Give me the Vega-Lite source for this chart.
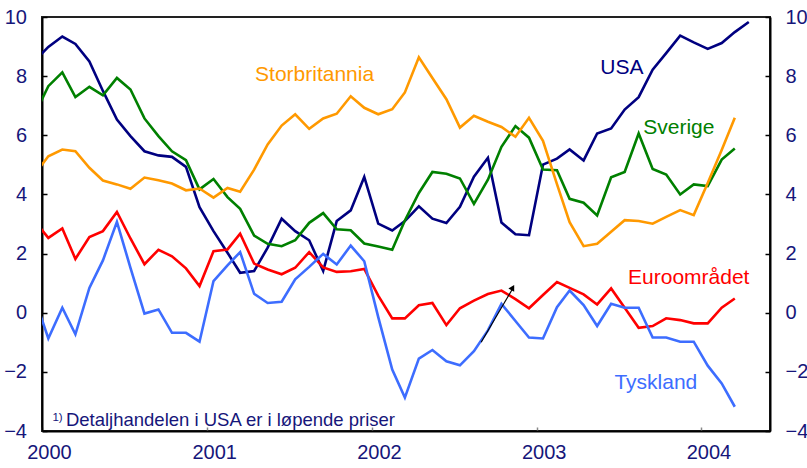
{
  "$schema": "https://vega.github.io/schema/vega-lite/v6.json",
  "width": 728,
  "height": 414,
  "autosize": {"type": "none"},
  "padding": {"left": 42, "top": 17, "right": 37, "bottom": 37},
  "background": "white",
  "config": {
    "view": {"stroke": "#222222", "strokeWidth": 2},
    "font": "Liberation Sans"
  },
  "resolve": {"scale": {"y": "independent"}},
  "layer": [
    {
      "layer": [
        {
          "data": {"values": [
            {"d":"1999-12-15","s":"USA","v":8.51},{"d":"2000-01-15","s":"USA","v":8.99},{"d":"2000-02-15","s":"USA","v":9.34},{"d":"2000-03-15","s":"USA","v":9.09},{"d":"2000-04-15","s":"USA","v":8.50},{"d":"2000-05-15","s":"USA","v":7.50},{"d":"2000-06-15","s":"USA","v":6.53},{"d":"2000-07-15","s":"USA","v":5.97},{"d":"2000-08-15","s":"USA","v":5.46},{"d":"2000-09-15","s":"USA","v":5.32},{"d":"2000-10-15","s":"USA","v":5.27},{"d":"2000-11-15","s":"USA","v":4.93},{"d":"2000-12-15","s":"USA","v":3.57},
            {"d":"2001-01-15","s":"USA","v":2.76},{"d":"2001-02-15","s":"USA","v":2.03},{"d":"2001-03-15","s":"USA","v":1.35},{"d":"2001-04-15","s":"USA","v":1.41},{"d":"2001-05-15","s":"USA","v":2.20},{"d":"2001-06-15","s":"USA","v":3.18},{"d":"2001-07-15","s":"USA","v":2.76},{"d":"2001-08-15","s":"USA","v":2.45},{"d":"2001-09-15","s":"USA","v":1.41},{"d":"2001-10-15","s":"USA","v":3.10},{"d":"2001-11-15","s":"USA","v":3.46},{"d":"2001-12-15","s":"USA","v":4.59},
            {"d":"2002-01-15","s":"USA","v":3.01},{"d":"2002-02-15","s":"USA","v":2.78},{"d":"2002-03-15","s":"USA","v":3.10},{"d":"2002-04-15","s":"USA","v":3.60},{"d":"2002-05-15","s":"USA","v":3.18},{"d":"2002-06-15","s":"USA","v":3.03},{"d":"2002-07-15","s":"USA","v":3.58},{"d":"2002-08-15","s":"USA","v":4.60},{"d":"2002-09-15","s":"USA","v":5.24},{"d":"2002-10-15","s":"USA","v":3.05},{"d":"2002-11-15","s":"USA","v":2.65},{"d":"2002-12-15","s":"USA","v":2.62},
            {"d":"2003-01-15","s":"USA","v":5.01},{"d":"2003-02-15","s":"USA","v":5.21},{"d":"2003-03-15","s":"USA","v":5.52},{"d":"2003-04-15","s":"USA","v":5.15},{"d":"2003-05-15","s":"USA","v":6.06},{"d":"2003-06-15","s":"USA","v":6.23},{"d":"2003-07-15","s":"USA","v":6.87},{"d":"2003-08-15","s":"USA","v":7.29},{"d":"2003-09-15","s":"USA","v":8.22},{"d":"2003-10-15","s":"USA","v":8.78},{"d":"2003-11-15","s":"USA","v":9.37},{"d":"2003-12-15","s":"USA","v":9.14},
            {"d":"2004-01-15","s":"USA","v":8.92},{"d":"2004-02-15","s":"USA","v":9.12},{"d":"2004-03-15","s":"USA","v":9.49},{"d":"2004-04-15","s":"USA","v":9.83},

            {"d":"1999-12-15","s":"Sverige","v":6.68},{"d":"2000-01-15","s":"Sverige","v":7.66},{"d":"2000-02-15","s":"Sverige","v":8.13},{"d":"2000-03-15","s":"Sverige","v":7.29},{"d":"2000-04-15","s":"Sverige","v":7.64},{"d":"2000-05-15","s":"Sverige","v":7.35},{"d":"2000-06-15","s":"Sverige","v":7.94},{"d":"2000-07-15","s":"Sverige","v":7.55},{"d":"2000-08-15","s":"Sverige","v":6.57},{"d":"2000-09-15","s":"Sverige","v":5.97},{"d":"2000-10-15","s":"Sverige","v":5.46},{"d":"2000-11-15","s":"Sverige","v":5.16},{"d":"2000-12-15","s":"Sverige","v":4.17},
            {"d":"2001-01-15","s":"Sverige","v":4.52},{"d":"2001-02-15","s":"Sverige","v":3.91},{"d":"2001-03-15","s":"Sverige","v":3.51},{"d":"2001-04-15","s":"Sverige","v":2.61},{"d":"2001-05-15","s":"Sverige","v":2.33},{"d":"2001-06-15","s":"Sverige","v":2.25},{"d":"2001-07-15","s":"Sverige","v":2.45},{"d":"2001-08-15","s":"Sverige","v":3.04},{"d":"2001-09-15","s":"Sverige","v":3.37},{"d":"2001-10-15","s":"Sverige","v":2.82},{"d":"2001-11-15","s":"Sverige","v":2.79},{"d":"2001-12-15","s":"Sverige","v":2.34},
            {"d":"2002-01-15","s":"Sverige","v":2.24},{"d":"2002-02-15","s":"Sverige","v":2.13},{"d":"2002-03-15","s":"Sverige","v":3.12},{"d":"2002-04-15","s":"Sverige","v":4.05},{"d":"2002-05-15","s":"Sverige","v":4.76},{"d":"2002-06-15","s":"Sverige","v":4.70},{"d":"2002-07-15","s":"Sverige","v":4.54},{"d":"2002-08-15","s":"Sverige","v":3.68},{"d":"2002-09-15","s":"Sverige","v":4.50},{"d":"2002-10-15","s":"Sverige","v":5.61},{"d":"2002-11-15","s":"Sverige","v":6.31},{"d":"2002-12-15","s":"Sverige","v":5.92},
            {"d":"2003-01-15","s":"Sverige","v":4.84},{"d":"2003-02-15","s":"Sverige","v":4.82},{"d":"2003-03-15","s":"Sverige","v":3.85},{"d":"2003-04-15","s":"Sverige","v":3.72},{"d":"2003-05-15","s":"Sverige","v":3.29},{"d":"2003-06-15","s":"Sverige","v":4.58},{"d":"2003-07-15","s":"Sverige","v":4.76},{"d":"2003-08-15","s":"Sverige","v":6.06},{"d":"2003-09-15","s":"Sverige","v":4.86},{"d":"2003-10-15","s":"Sverige","v":4.67},{"d":"2003-11-15","s":"Sverige","v":4.00},{"d":"2003-12-15","s":"Sverige","v":4.34},
            {"d":"2004-01-15","s":"Sverige","v":4.28},{"d":"2004-02-15","s":"Sverige","v":5.18},{"d":"2004-03-15","s":"Sverige","v":5.55},

            {"d":"1999-12-15","s":"Storbritannia","v":4.67},{"d":"2000-01-15","s":"Storbritannia","v":5.29},{"d":"2000-02-15","s":"Storbritannia","v":5.52},{"d":"2000-03-15","s":"Storbritannia","v":5.46},{"d":"2000-04-15","s":"Storbritannia","v":4.90},{"d":"2000-05-15","s":"Storbritannia","v":4.47},{"d":"2000-06-15","s":"Storbritannia","v":4.34},{"d":"2000-07-15","s":"Storbritannia","v":4.19},{"d":"2000-08-15","s":"Storbritannia","v":4.57},{"d":"2000-09-15","s":"Storbritannia","v":4.48},{"d":"2000-10-15","s":"Storbritannia","v":4.37},{"d":"2000-11-15","s":"Storbritannia","v":4.14},{"d":"2000-12-15","s":"Storbritannia","v":4.20},
            {"d":"2001-01-15","s":"Storbritannia","v":3.89},{"d":"2001-02-15","s":"Storbritannia","v":4.22},{"d":"2001-03-15","s":"Storbritannia","v":4.09},{"d":"2001-04-15","s":"Storbritannia","v":4.84},{"d":"2001-05-15","s":"Storbritannia","v":5.69},{"d":"2001-06-15","s":"Storbritannia","v":6.33},{"d":"2001-07-15","s":"Storbritannia","v":6.71},{"d":"2001-08-15","s":"Storbritannia","v":6.22},{"d":"2001-09-15","s":"Storbritannia","v":6.57},{"d":"2001-10-15","s":"Storbritannia","v":6.73},{"d":"2001-11-15","s":"Storbritannia","v":7.32},{"d":"2001-12-15","s":"Storbritannia","v":6.93},
            {"d":"2002-01-15","s":"Storbritannia","v":6.71},{"d":"2002-02-15","s":"Storbritannia","v":6.88},{"d":"2002-03-15","s":"Storbritannia","v":7.45},{"d":"2002-04-15","s":"Storbritannia","v":8.64},{"d":"2002-05-15","s":"Storbritannia","v":7.94},{"d":"2002-06-15","s":"Storbritannia","v":7.22},{"d":"2002-07-15","s":"Storbritannia","v":6.26},{"d":"2002-08-15","s":"Storbritannia","v":6.66},{"d":"2002-09-15","s":"Storbritannia","v":6.46},{"d":"2002-10-15","s":"Storbritannia","v":6.28},{"d":"2002-11-15","s":"Storbritannia","v":5.95},{"d":"2002-12-15","s":"Storbritannia","v":6.59},
            {"d":"2003-01-15","s":"Storbritannia","v":5.81},{"d":"2003-02-15","s":"Storbritannia","v":4.35},{"d":"2003-03-15","s":"Storbritannia","v":3.06},{"d":"2003-04-15","s":"Storbritannia","v":2.25},{"d":"2003-05-15","s":"Storbritannia","v":2.33},{"d":"2003-06-15","s":"Storbritannia","v":2.74},{"d":"2003-07-15","s":"Storbritannia","v":3.13},{"d":"2003-08-15","s":"Storbritannia","v":3.10},{"d":"2003-09-15","s":"Storbritannia","v":3.01},{"d":"2003-10-15","s":"Storbritannia","v":3.24},{"d":"2003-11-15","s":"Storbritannia","v":3.47},{"d":"2003-12-15","s":"Storbritannia","v":3.30},
            {"d":"2004-01-15","s":"Storbritannia","v":4.39},{"d":"2004-02-15","s":"Storbritannia","v":5.50},{"d":"2004-03-15","s":"Storbritannia","v":6.59},

            {"d":"1999-12-15","s":"Euroområdet","v":3.11},{"d":"2000-01-15","s":"Euroområdet","v":2.53},{"d":"2000-02-15","s":"Euroområdet","v":2.85},{"d":"2000-03-15","s":"Euroområdet","v":1.82},{"d":"2000-04-15","s":"Euroområdet","v":2.56},{"d":"2000-05-15","s":"Euroområdet","v":2.76},{"d":"2000-06-15","s":"Euroområdet","v":3.41},{"d":"2000-07-15","s":"Euroområdet","v":2.51},{"d":"2000-08-15","s":"Euroområdet","v":1.64},{"d":"2000-09-15","s":"Euroområdet","v":2.13},{"d":"2000-10-15","s":"Euroområdet","v":1.91},{"d":"2000-11-15","s":"Euroområdet","v":1.50},{"d":"2000-12-15","s":"Euroområdet","v":0.90},
            {"d":"2001-01-15","s":"Euroområdet","v":2.08},{"d":"2001-02-15","s":"Euroområdet","v":2.14},{"d":"2001-03-15","s":"Euroområdet","v":2.67},{"d":"2001-04-15","s":"Euroområdet","v":1.66},{"d":"2001-05-15","s":"Euroområdet","v":1.46},{"d":"2001-06-15","s":"Euroområdet","v":1.30},{"d":"2001-07-15","s":"Euroområdet","v":1.52},{"d":"2001-08-15","s":"Euroområdet","v":2.05},{"d":"2001-09-15","s":"Euroområdet","v":1.53},{"d":"2001-10-15","s":"Euroområdet","v":1.38},{"d":"2001-11-15","s":"Euroområdet","v":1.40},{"d":"2001-12-15","s":"Euroområdet","v":1.48},
            {"d":"2002-01-15","s":"Euroområdet","v":0.58},{"d":"2002-02-15","s":"Euroområdet","v":-0.19},{"d":"2002-03-15","s":"Euroområdet","v":-0.19},{"d":"2002-04-15","s":"Euroområdet","v":0.25},{"d":"2002-05-15","s":"Euroområdet","v":0.33},{"d":"2002-06-15","s":"Euroområdet","v":-0.42},{"d":"2002-07-15","s":"Euroområdet","v":0.15},{"d":"2002-08-15","s":"Euroområdet","v":0.41},{"d":"2002-09-15","s":"Euroområdet","v":0.63},{"d":"2002-10-15","s":"Euroområdet","v":0.75},{"d":"2002-11-15","s":"Euroområdet","v":0.46},{"d":"2002-12-15","s":"Euroområdet","v":0.15},
            {"d":"2003-01-15","s":"Euroområdet","v":0.60},{"d":"2003-02-15","s":"Euroområdet","v":1.04},{"d":"2003-03-15","s":"Euroområdet","v":0.84},{"d":"2003-04-15","s":"Euroområdet","v":0.62},{"d":"2003-05-15","s":"Euroområdet","v":0.28},{"d":"2003-06-15","s":"Euroområdet","v":0.82},{"d":"2003-07-15","s":"Euroområdet","v":0.17},{"d":"2003-08-15","s":"Euroområdet","v":-0.51},{"d":"2003-09-15","s":"Euroområdet","v":-0.45},{"d":"2003-10-15","s":"Euroområdet","v":-0.19},{"d":"2003-11-15","s":"Euroområdet","v":-0.25},{"d":"2003-12-15","s":"Euroområdet","v":-0.36},
            {"d":"2004-01-15","s":"Euroområdet","v":-0.36},{"d":"2004-02-15","s":"Euroområdet","v":0.17},{"d":"2004-03-15","s":"Euroområdet","v":0.48},

            {"d":"1999-12-15","s":"Tyskland","v":0.53},{"d":"2000-01-15","s":"Tyskland","v":-0.87},{"d":"2000-02-15","s":"Tyskland","v":0.17},{"d":"2000-03-15","s":"Tyskland","v":-0.73},{"d":"2000-04-15","s":"Tyskland","v":0.84},{"d":"2000-05-15","s":"Tyskland","v":1.77},{"d":"2000-06-15","s":"Tyskland","v":3.07},{"d":"2000-07-15","s":"Tyskland","v":1.52},{"d":"2000-08-15","s":"Tyskland","v":-0.03},{"d":"2000-09-15","s":"Tyskland","v":0.11},{"d":"2000-10-15","s":"Tyskland","v":-0.68},{"d":"2000-11-15","s":"Tyskland","v":-0.68},{"d":"2000-12-15","s":"Tyskland","v":-0.98},
            {"d":"2001-01-15","s":"Tyskland","v":1.07},{"d":"2001-02-15","s":"Tyskland","v":1.60},{"d":"2001-03-15","s":"Tyskland","v":2.05},{"d":"2001-04-15","s":"Tyskland","v":0.64},{"d":"2001-05-15","s":"Tyskland","v":0.33},{"d":"2001-06-15","s":"Tyskland","v":0.37},{"d":"2001-07-15","s":"Tyskland","v":1.13},{"d":"2001-08-15","s":"Tyskland","v":1.55},{"d":"2001-09-15","s":"Tyskland","v":1.99},{"d":"2001-10-15","s":"Tyskland","v":1.63},{"d":"2001-11-15","s":"Tyskland","v":2.27},{"d":"2001-12-15","s":"Tyskland","v":1.74},
            {"d":"2002-01-15","s":"Tyskland","v":-0.15},{"d":"2002-02-15","s":"Tyskland","v":-1.92},{"d":"2002-03-15","s":"Tyskland","v":-2.87},{"d":"2002-04-15","s":"Tyskland","v":-1.55},{"d":"2002-05-15","s":"Tyskland","v":-1.26},{"d":"2002-06-15","s":"Tyskland","v":-1.64},{"d":"2002-07-15","s":"Tyskland","v":-1.78},{"d":"2002-08-15","s":"Tyskland","v":-1.30},{"d":"2002-09-15","s":"Tyskland","v":-0.60},{"d":"2002-10-15","s":"Tyskland","v":0.30},{"d":"2002-11-15","s":"Tyskland","v":-0.28},{"d":"2002-12-15","s":"Tyskland","v":-0.84},
            {"d":"2003-01-15","s":"Tyskland","v":-0.87},{"d":"2003-02-15","s":"Tyskland","v":0.19},{"d":"2003-03-15","s":"Tyskland","v":0.75},{"d":"2003-04-15","s":"Tyskland","v":0.26},{"d":"2003-05-15","s":"Tyskland","v":-0.45},{"d":"2003-06-15","s":"Tyskland","v":0.30},{"d":"2003-07-15","s":"Tyskland","v":0.17},{"d":"2003-08-15","s":"Tyskland","v":0.17},{"d":"2003-09-15","s":"Tyskland","v":-0.84},{"d":"2003-10-15","s":"Tyskland","v":-0.84},{"d":"2003-11-15","s":"Tyskland","v":-0.98},{"d":"2003-12-15","s":"Tyskland","v":-0.98},
            {"d":"2004-01-15","s":"Tyskland","v":-1.79},{"d":"2004-02-15","s":"Tyskland","v":-2.39},{"d":"2004-03-15","s":"Tyskland","v":-3.18}
          ]},
          "mark": {"type": "line", "strokeWidth": 2.6, "clip": true},
          "encoding": {
            "x": {
              "field": "d", "type": "temporal",
              "scale": {"domain": [{"year": 2000, "month": 1, "date": 1}, {"year": 2004, "month": 6, "date": 1}]},
              "axis": {
                "title": null,
                "values": [{"year": 2000, "month": 1, "date": 1}, {"year": 2001, "month": 1, "date": 1}, {"year": 2002, "month": 1, "date": 1}, {"year": 2003, "month": 1, "date": 1}, {"year": 2004, "month": 1, "date": 1}],
                "format": "%Y",
                "labelFlush": false,
                "labelOverlap": false,
                "labelOffset": 7,
                "labelFontSize": 20,
                "labelColor": "#16167a",
                "labelFont": "Liberation Sans",
                "labelPadding": 15.5,
                "tickSize": -4,
                "tickColor": "#888888",
                "tickWidth": 1.5,
                "domainColor": "#000000",
                "domainWidth": 2,
                "grid": false
              }
            },
            "y": {
              "field": "v", "type": "quantitative",
              "scale": {"domain": [-4, 10], "nice": false, "zero": false},
              "axis": {
                "title": null,
                "orient": "left",
                "values": [-4, -2, 0, 2, 4, 6, 8, 10],
                "labelFontSize": 20,
                "labelColor": "#16167a",
                "labelFont": "Liberation Sans",
                "labelPadding": 20.5,
                "tickSize": -5,
                "tickColor": "#000000",
                "tickWidth": 1.5,
                "domainColor": "#000000",
                "domainWidth": 2,
                "grid": false
              }
            },
            "color": {
              "field": "s", "type": "nominal",
              "scale": {
                "domain": ["USA", "Storbritannia", "Sverige", "Euroområdet", "Tyskland"],
                "range": ["#000080", "#FF9900", "#008000", "#FF0000", "#3D6DFF"]
              },
              "legend": null
            }
          }
        },
        {
          "data": {"values": [
            {"d": "2000-01-24", "v": -3.66, "t": "1)", "fs": 11.5},
            {"d": "2000-02-23", "v": -3.83, "t": "Detaljhandelen i USA er i løpende priser", "fs": 18.5}
          ]},
          "mark": {"type": "text", "align": "left", "baseline": "alphabetic", "color": "#16167a", "font": "Liberation Sans"},
          "encoding": {
            "x": {"field": "d", "type": "temporal"},
            "y": {"field": "v", "type": "quantitative"},
            "text": {"field": "t"},
            "size": {"field": "fs", "type": "quantitative", "scale": null}
          }
        },
        {
          "data": {"values": [{"d": "2002-08-31", "v": -1.0, "d2": "2002-11-11", "v2": 0.87}]},
          "mark": {"type": "rule", "color": "#000000", "strokeWidth": 1.2},
          "encoding": {
            "x": {"field": "d", "type": "temporal"},
            "x2": {"field": "d2"},
            "y": {"field": "v", "type": "quantitative"},
            "y2": {"field": "v2"}
          }
        },
        {
          "data": {"values": [{"d": "2002-11-09", "v": 0.85}]},
          "mark": {"type": "point", "shape": "triangle-up", "filled": true, "color": "#000000", "opacity": 1, "size": 45, "angle": 30},
          "encoding": {
            "x": {"field": "d", "type": "temporal"},
            "y": {"field": "v", "type": "quantitative"}
          }
        }
      ]
    },
    {
      "data": {"values": [
        {"d": "2001-08-27", "v": 8.05, "t": "Storbritannia"},
        {"d": "2003-07-09", "v": 8.26, "t": "USA"},
        {"d": "2003-11-12", "v": 6.23, "t": "Sverige"},
        {"d": "2003-12-04", "v": 1.18, "t": "Euroområdet"},
        {"d": "2003-09-22", "v": -2.38, "t": "Tyskland"}
      ]},
      "mark": {"type": "text", "fontSize": 21, "align": "center", "baseline": "middle", "font": "Liberation Sans"},
      "encoding": {
        "x": {"field": "d", "type": "temporal"},
        "y": {
          "field": "v", "type": "quantitative",
          "scale": {"domain": [-4, 10], "nice": false, "zero": false},
          "axis": {
            "title": null,
            "orient": "right",
            "values": [-4, -2, 0, 2, 4, 6, 8, 10],
            "labelFontSize": 20,
            "labelColor": "#16167a",
            "labelFont": "Liberation Sans",
            "labelPadding": 20,
            "tickSize": -5,
            "tickColor": "#000000",
            "tickWidth": 1.5,
            "domainColor": "#000000",
            "domainWidth": 2,
            "grid": false
          }
        },
        "text": {"field": "t"},
        "color": {"field": "t", "type": "nominal", "legend": null,
          "scale": {
            "domain": ["USA", "Storbritannia", "Sverige", "Euroområdet", "Tyskland"],
            "range": ["#000080", "#FF9900", "#008000", "#FF0000", "#3D6DFF"]
          }
        }
      }
    }
  ]
}
